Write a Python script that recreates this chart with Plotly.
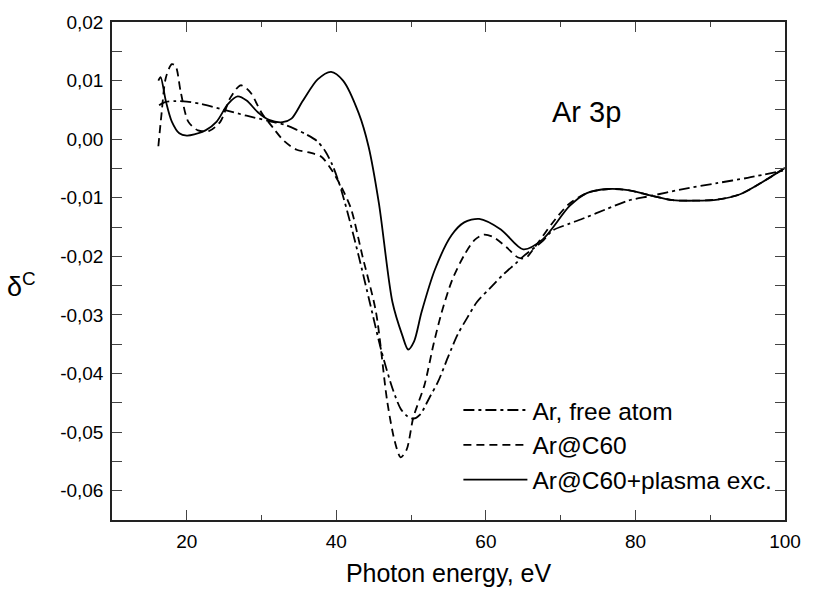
import plotly.graph_objects as go

# Ar, free atom (dash-dot)
free_x = [16.3, 17.0, 18.5, 20.0, 22.0, 25.0, 28.0, 31.0, 33.0, 34.7, 36.0, 37.4, 38.5, 39.5, 40.5, 41.5,
          43.0, 44.5, 46.0, 47.5, 48.6, 49.5, 50.3, 51.2, 52.5, 53.6, 55.0, 56.2, 57.5, 58.8, 60.5, 62.4,
          64.0, 65.0, 66.0, 67.5, 68.9, 71.0, 73.3, 76.0, 79.0, 82.0, 86.0, 90.9, 95.0, 100.0]
free_y = [0.0058, 0.0063, 0.0065, 0.0064, 0.0060, 0.0050, 0.0040, 0.0031, 0.0025, 0.0016, 0.0008, -0.0003,
          -0.0020, -0.0045, -0.0080, -0.0125, -0.0200, -0.0280, -0.0360, -0.0425, -0.0460, -0.0473, -0.0477,
          -0.0470, -0.0440, -0.0414, -0.0370, -0.0334, -0.0305, -0.0278, -0.0255, -0.0230, -0.0212, -0.0200,
          -0.0190, -0.0175, -0.0156, -0.0145, -0.0134, -0.0120, -0.0105, -0.0097, -0.0086, -0.0075, -0.0066,
          -0.0053]

# Ar@C60 (dashed)
c60_x = [16.2, 16.6, 17.2, 18.0, 18.5, 19.2, 20.2, 21.5, 23.0, 24.5, 25.8, 27.2, 28.5, 30.0, 31.5, 33.0,
         34.7, 36.5, 38.0, 39.5, 41.0, 42.0, 43.5, 45.3, 46.8, 47.8, 48.6, 49.4, 50.3, 51.8, 53.0, 54.1,
         55.5, 57.1, 58.5, 59.7, 61.0, 62.8, 64.3, 65.3, 66.5, 68.9, 71.0, 73.5, 76.4, 79.0, 82.0, 85.0,
         88.0, 91.0, 94.0, 97.0, 100.0]
c60_y = [-0.0012, 0.0040, 0.0105, 0.0128, 0.0125, 0.0080, 0.0030, 0.0015, 0.0014, 0.0030, 0.0070, 0.0092,
         0.0080, 0.0045, 0.0020, -0.0003, -0.0018, -0.0023, -0.0030, -0.0055, -0.0090, -0.0120, -0.0200,
         -0.0295, -0.0447, -0.0515, -0.0543, -0.0530, -0.0475, -0.0419, -0.0350, -0.0295, -0.0240, -0.0198,
         -0.0172, -0.0163, -0.0167, -0.0185, -0.0202, -0.0203, -0.0185, -0.0143, -0.0112, -0.0092, -0.0085,
         -0.0087, -0.0096, -0.0104, -0.0105, -0.0103, -0.0094, -0.0073, -0.0049]

# Ar@C60 + plasma excitation (solid)
pl_x = [16.2, 16.5, 17.2, 18.0, 19.0, 20.0, 21.0, 22.5, 24.0, 25.5, 26.8, 28.0, 29.5, 31.0, 32.8, 34.0,
        35.5, 37.5, 39.3, 40.9, 43.0, 44.3, 45.7, 47.5, 48.8, 49.6, 50.4, 51.4, 53.2, 55.4, 57.1, 59.1,
        62.0, 65.0, 67.6, 71.2, 73.5, 76.4, 79.0, 82.0, 85.0, 88.0, 91.0, 94.0, 97.0, 100.0]
pl_y = [0.0100, 0.0106, 0.0065, 0.0030, 0.0010, 0.0006, 0.0008, 0.0015, 0.0030, 0.0060, 0.0073, 0.0066,
        0.0046, 0.0033, 0.0029, 0.0035, 0.0065, 0.0102, 0.0115, 0.0100, 0.0044, -0.0012, -0.0110, -0.0278,
        -0.0334, -0.0359, -0.0345, -0.0295, -0.0222, -0.0164, -0.0142, -0.0136, -0.0154, -0.0188, -0.0171,
        -0.0114, -0.0092, -0.0085, -0.0087, -0.0096, -0.0104, -0.0105, -0.0103, -0.0094, -0.0073, -0.0049]

series_names = ["Ar, free atom", "Ar@C60", "Ar@C60+plasma exc."]

x_tick_vals = [20, 40, 60, 80, 100]
x_tick_text = ["20", "40", "60", "80", "100"]
y_tick_vals = [0.02, 0.01, 0.0, -0.01, -0.02, -0.03, -0.04, -0.05, -0.06]
y_tick_text = ["0,02", "0,01", "0,00", "-0,01", "-0,02", "-0,03", "-0,04", "-0,05", "-0,06"]

FONT = "Liberation Sans, Arial, sans-serif"

fig = go.Figure()
fig.add_trace(go.Scatter(x=free_x, y=free_y, mode="lines", name=series_names[0], legendgroup="a",
                         line=dict(color="black", width=1.8, dash="11px,4px,3px,4px", shape="spline", smoothing=0.8)))
fig.add_trace(go.Scatter(x=c60_x, y=c60_y, mode="lines", name=series_names[1], legendgroup="b",
                         line=dict(color="black", width=1.8, dash="8px,5px", shape="spline", smoothing=0.8)))
fig.add_trace(go.Scatter(x=pl_x, y=pl_y, mode="lines", name=series_names[2], legendgroup="c",
                         line=dict(color="black", width=1.8, shape="spline", smoothing=0.8)))

fig.add_annotation(x=73.4, y=0.0047, xref="x", yref="y", text="Ar 3p", showarrow=False,
                   font=dict(size=29, color="black", family=FONT))
fig.add_annotation(x=-0.135, y=0.472, xref="paper", yref="paper", xanchor="center", yanchor="middle",
                   text="δ<sup>C</sup>", showarrow=False,
                   font=dict(size=27, color="black", family=FONT))

axis_common = dict(showline=True, linecolor="#222", linewidth=1.5, mirror="allticks", ticks="inside",
                   tickcolor="#444", tickwidth=1.2, ticklen=10, showgrid=False, zeroline=False,
                   ticklabelstandoff=3,
                   tickfont=dict(size=19, color="black", family=FONT))

fig.update_layout(
    width=813, height=600,
    margin=dict(l=112, r=19, t=18, b=80),
    plot_bgcolor="white", paper_bgcolor="white",
    font=dict(family=FONT, color="black"),
    xaxis=dict(range=[10, 100], tickvals=x_tick_vals, ticktext=x_tick_text,
               minor=dict(ticks="inside", dtick=10, tick0=0, ticklen=5, tickcolor="#444", tickwidth=1.2),
               title=dict(text="Photon energy, eV", font=dict(size=25), standoff=14),
               **axis_common),
    yaxis=dict(range=[-0.065, 0.02], tickvals=y_tick_vals, ticktext=y_tick_text,
               minor=dict(ticks="inside", dtick=0.005, tick0=0, ticklen=10, tickcolor="#444", tickwidth=1.2),
               **axis_common),
    showlegend=True,
    legend=dict(x=0.5147, y=0.035, xanchor="left", yanchor="bottom", bgcolor="rgba(0,0,0,0)",
                font=dict(size=24.5, color="black", family=FONT), tracegroupgap=0, itemwidth=64),
)

fig.write_html("out.html", config={"displayModeBar": False},
               post_script="document.body.style.margin='0';")
